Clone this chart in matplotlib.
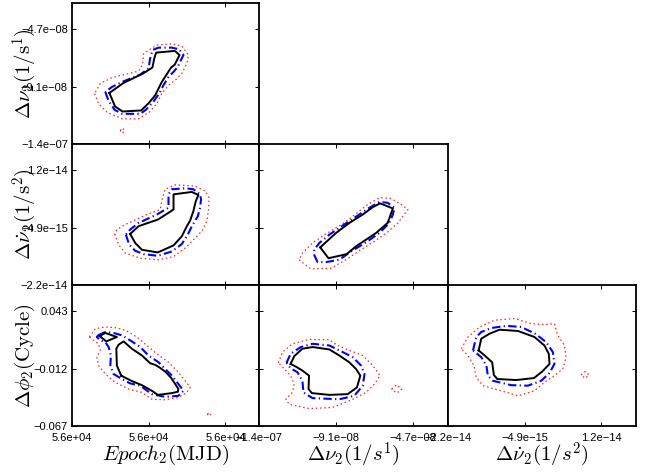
import numpy as np
import matplotlib
matplotlib.use("Agg")
import matplotlib.pyplot as plt

plt.rcParams["font.family"] = ["Liberation Sans", "DejaVu Sans"]
plt.rcParams["mathtext.fontset"] = "cm"

# Axis ranges (nu in 1e-8 1/s, nudot in 1e-15 1/s^2, phi in cycles)
epoch_lim = (55900, 56000)
epoch_ticks = [55900, 55941, 55982]
epoch_labels = ["5.6e+04", "5.6e+04", "5.6e+04"]
nu_lim = (-13.5, -2.7)
nu_ticks = [-13.5, -9.1, -4.7]
nu_labels = ["\u22121.4e\u221207", "\u22129.1e\u221208", "\u22124.7e\u221208"]
nudot_lim = (-21.9, 19.8)
nudot_ticks = [-21.9, -4.9, 12.1]
nudot_labels = ["\u22122.2e\u221214", "\u22124.9e\u221215", "1.2e\u221214"]
phi_lim = (-0.067, 0.068)
phi_ticks = [-0.067, -0.012, 0.043]
phi_labels = ["\u22120.067", "\u22120.012", "0.043"]

# Epoch vs nu
A_black_x = [55920, 55923, 55927, 55937, 55941, 55944.5, 55946, 55948, 55950, 55953, 55955, 55957.5, 55955, 55945, 55944, 55943, 55938, 55927.6]
A_black_y = [-9.59, -10.62, -11.01, -10.93, -10.37, -9.77, -9.33, -8.75, -8.31, -7.64, -7.41, -6.69, -6.37, -6.50, -6.94, -7.64, -8.10, -8.82]
A_blue_x = [55917.8, 55919.6, 55922.8, 55926.7, 55936.5, 55939.5, 55943.6, 55946.6, 55948.9, 55951.6, 55954.3, 55956.6, 55957.8, 55959.6, 55957.3, 55953.4, 55946.3, 55943.1, 55941.8, 55940.9, 55936.5, 55926.7, 55921.4]
A_blue_y = [-9.51, -10.21, -10.88, -11.19, -11.19, -10.88, -10.24, -9.64, -9.00, -8.36, -7.97, -7.58, -7.20, -6.69, -6.25, -6.12, -6.12, -6.30, -6.94, -7.71, -8.18, -8.75, -9.13]
A_red_x = [55912.1, 55914.2, 55918.7, 55926.7, 55935.6, 55941.3, 55945.4, 55948, 55951.6, 55955.2, 55958.7, 55961.4, 55962.3, 55958.7, 55953.4, 55945.4, 55938.3, 55937.7, 55935.6, 55921.4, 55915.1]
A_red_y = [-9.64, -10.41, -11.06, -11.57, -11.57, -11.06, -10.41, -9.64, -9.00, -8.62, -8.10, -7.33, -6.69, -5.99, -5.83, -5.92, -6.56, -7.45, -7.92, -8.41, -8.87]
A_blob_x = [55925.8, 55927, 55928.2, 55927]
A_blob_y = [-12.47, -12.27, -12.47, -12.67]

# Epoch vs nudot
B_black_x = [55931.1, 55933.8, 55937.4, 55945.9, 55954.3, 55958.7, 55961.4, 55963.2, 55964.9, 55966.2, 55967.6, 55964.1, 55954.3, 55954.3, 55951.6, 55945.9, 55935.6]
B_black_y = [-6.80, -9.47, -11.48, -12.27, -10.18, -7.51, -4.51, -2.84, -0.05, 2.91, 4.70, 5.62, 4.91, 0.45, -0.55, -2.55, -4.51]
B_blue_x = [55928.8, 55930.6, 55933.8, 55938.3, 55945.9, 55953.4, 55958.7, 55961.9, 55964.1, 55967.3, 55968.5, 55969, 55968.5, 55964.9, 55960.5, 55953.4, 55951.6, 55951.6, 55945.4, 55935.6, 55931.1]
B_blue_y = [-7.01, -9.97, -11.77, -12.77, -13.27, -11.98, -9.81, -7.01, -4.51, -1.55, 0.95, 3.41, 4.91, 6.41, 6.71, 6.41, 4.91, 0.95, -1.05, -3.55, -5.51]
B_red_x = [55922.8, 55924.9, 55928.5, 55936.5, 55946.3, 55954.3, 55960.5, 55964.9, 55969.4, 55972.1, 55973, 55973.3, 55971.2, 55965.8, 55955.2, 55949.8, 55948, 55947.2, 55940, 55928.5, 55924]
B_red_y = [-6.80, -9.97, -12.48, -13.98, -14.44, -13.48, -10.97, -8.51, -6.01, -3.05, 0.45, 3.91, 5.91, 7.37, 7.71, 6.41, 2.91, 0.45, -1.05, -4.01, -5.51]

# nu vs nudot
C_black_x = [-10.0, -9.53, -8.49, -7.96, -6.81, -6.15, -5.85, -6.58, -7.0, -7.57, -8.34, -9.1]
C_black_y = [-10.77, -13.98, -12.77, -10.47, -6.51, -3.55, 0.74, 2.24, 1.12, -1.05, -3.55, -6.51]
C_blue_x = [-10.35, -10.15, -9.68, -8.91, -8.24, -7.39, -6.62, -6.05, -5.85, -5.76, -6.15, -6.62, -7.19, -7.77, -8.63, -9.48, -10.05, -10.35]
C_blue_y = [-12.98, -15.14, -15.14, -14.44, -11.98, -9.31, -6.51, -3.55, -1.05, 0.95, 2.41, 2.70, 0.95, -1.05, -4.01, -7.01, -9.47, -11.48]
C_red_x = [-11.21, -10.54, -9.39, -8.53, -7.77, -6.90, -6.15, -5.56, -4.99, -5.38, -5.95, -6.62, -7.29, -7.96, -8.73, -9.68, -10.44, -11.02]
C_red_y = [-14.44, -17.15, -16.94, -14.44, -11.77, -8.97, -6.22, -3.55, 0.45, 1.91, 3.70, 3.91, 1.91, -0.84, -3.84, -6.80, -9.47, -12.48]

# Epoch vs phi
D_black_x = [55926.3, 55924, 55923.7, 55924.9, 55927.6, 55932, 55937.4, 55941.8, 55944.5, 55946.6, 55949.8, 55952.8, 55955.2, 55956.9, 55956.6, 55953.4, 55945.9, 55942.7, 55937.4, 55931.7]
D_black_y = [-0.0188, -0.0091, 0.0070, 0.0108, 0.0140, 0.0070, 0.0005, -0.0069, -0.0085, -0.0107, -0.0149, -0.0204, -0.0268, -0.0316, -0.0342, -0.0355, -0.0372, -0.0333, -0.0279, -0.0237]
D_small_x = [55914.8, 55917.8, 55924, 55918.3]
D_small_y = [0.0191, 0.0221, 0.0182, 0.0140]
D_blue_x = [55913.9, 55917.8, 55922.2, 55926.7, 55932, 55936.5, 55940.9, 55946.3, 55950.7, 55953.4, 55956.9, 55959.6, 55956.9, 55949.8, 55942.7, 55936.5, 55931.1, 55926.7, 55922.2, 55920.5, 55920.8, 55919.6, 55917.8, 55915.1, 55913.3]
D_blue_y = [0.0198, 0.0230, 0.0221, 0.0198, 0.0140, 0.0086, 0.0005, -0.0060, -0.0139, -0.0188, -0.0268, -0.0333, -0.0381, -0.0391, -0.0365, -0.0284, -0.0262, -0.0220, -0.0172, -0.0091, 0.0005, 0.0086, 0.0133, 0.0149, 0.0182]
D_red_x = [55909.3, 55912.5, 55917.8, 55923.1, 55928.5, 55934.7, 55940, 55945.4, 55951.6, 55956.9, 55960.5, 55963.2, 55961.4, 55956.9, 55949.8, 55942.7, 55937.4, 55930.2, 55923.1, 55917.8, 55914.2, 55913.3, 55915.1, 55914.2, 55911.6]
D_red_y = [0.0182, 0.0262, 0.0278, 0.0272, 0.0247, 0.0182, 0.0101, 0.0021, -0.0060, -0.0156, -0.0237, -0.0300, -0.0349, -0.0397, -0.0419, -0.0414, -0.0349, -0.0316, -0.0252, -0.0172, -0.0091, -0.0011, 0.0054, 0.0117, 0.0149]
D_blob_x = [55972.4, 55973.3, 55974.2, 55973.3]
D_blob_y = [-0.0558, -0.0542, -0.0558, -0.0574]

# nu vs phi
E_black_x = [-11.69, -11.49, -11.02, -10.44, -9.48, -8.91, -8.34, -7.96, -7.71, -7.90, -8.43, -9.48, -10.48, -10.67, -10.64, -11.02, -11.39]
E_black_y = [-0.0076, -0.0002, 0.0070, 0.0086, 0.0063, 0.0005, -0.0060, -0.0123, -0.0188, -0.0300, -0.0365, -0.0372, -0.0355, -0.0316, -0.0188, -0.0139, -0.0102]
E_blue_x = [-11.93, -11.69, -11.11, -10.44, -9.48, -8.91, -8.14, -7.67, -7.47, -7.57, -8.06, -8.91, -10.44, -10.96, -11.02, -11.30, -11.69]
E_blue_y = [-0.0065, 0.0021, 0.0086, 0.0117, 0.0101, 0.0054, -0.0011, -0.0091, -0.0172, -0.0284, -0.0381, -0.0414, -0.0403, -0.0349, -0.0237, -0.0156, -0.0117]
E_red_x = [-12.39, -12.16, -11.59, -10.64, -9.48, -9.01, -8.34, -7.57, -7.0, -6.58, -6.90, -7.39, -8.14, -9.30, -10.64, -11.78, -11.97, -11.59, -11.49, -11.69, -12.06]
E_red_y = [-0.0065, 0.0037, 0.0117, 0.0159, 0.0156, 0.0101, 0.0054, 0.0005, -0.0091, -0.0188, -0.0268, -0.0349, -0.0414, -0.0493, -0.0503, -0.0461, -0.0414, -0.0349, -0.0268, -0.0188, -0.0123]
E_blob_x = [-5.92, -5.63, -5.34, -5.63]
E_blob_y = [-0.0316, -0.0277, -0.0316, -0.0355]

# nudot vs phi
F_black_x = [-15.10, -14.52, -12.68, -10.47, -6.39, -2.72, -0.51, 0.45, 0.62, -1.01, -2.84, -6.76, -10.97, -11.73, -12.10, -13.77]
F_black_y = [0.0054, 0.0166, 0.0214, 0.0252, 0.0240, 0.0182, 0.0101, 0.0021, -0.0076, -0.0149, -0.0211, -0.0230, -0.0220, -0.0181, -0.0060, 0.0005]
F_blue_x = [-16.35, -15.64, -14.52, -12.31, -8.97, -5.68, -2.55, -0.13, 1.37, 1.70, 0.62, -1.22, -4.18, -7.89, -11.93, -13.06, -13.39, -14.52]
F_blue_y = [0.0054, 0.0182, 0.0230, 0.0268, 0.0289, 0.0278, 0.0214, 0.0133, 0.0037, -0.0076, -0.0162, -0.0237, -0.0284, -0.0279, -0.0237, -0.0188, -0.0091, -0.0011]
F_red_x = [-18.94, -17.48, -14.89, -11.56, -7.14, -3.47, -0.51, 1.70, 2.45, 3.91, 4.29, 3.58, 1.70, -0.51, -2.72, -6.39, -10.1, -14.14, -15.64, -16.14, -17.48]
F_red_y = [0.0070, 0.0182, 0.0278, 0.0343, 0.0359, 0.0310, 0.0301, 0.0310, 0.0198, 0.0101, -0.0011, -0.0123, -0.0188, -0.0252, -0.0333, -0.0381, -0.0333, -0.0284, -0.0204, -0.0091, 0.0005]
F_blob_x = [7.6, 8.5, 9.4, 8.5]
F_blob_y = [-0.0181, -0.0149, -0.0181, -0.0213]

red_style = dict(color="#ff2020", lw=0.9, ls=(0, (1.2, 2.2)))
blue_style = dict(color="#0000ff", lw=1.5, ls=(0, (4, 1.6, 0.6, 1.6)))
black_style = dict(color="black", lw=1.4, ls="-")


def loop(ax, xs, ys, style):
    # close the contour by repeating the first vertex
    ax.plot(np.append(xs, xs[0]), np.append(ys, ys[0]), **style)


fig = plt.figure(figsize=(6.49, 4.72), dpi=100)

col_left = [72 / 649, 259 / 649, 448 / 649]
col_w = [187 / 649, 189 / 649, 188 / 649]
row_bottom = [1 - 144 / 472, 1 - 285 / 472, 1 - 426 / 472]
row_h = 141 / 472

vars_x = [(epoch_lim, epoch_ticks, epoch_labels), (nu_lim, nu_ticks, nu_labels), (nudot_lim, nudot_ticks, nudot_labels)]
vars_y = [(nu_lim, nu_ticks, nu_labels), (nudot_lim, nudot_ticks, nudot_labels), (phi_lim, phi_ticks, phi_labels)]

panels = {
    (0, 0): [(A_red_x, A_red_y, red_style), (A_blob_x, A_blob_y, red_style),
             (A_blue_x, A_blue_y, blue_style), (A_black_x, A_black_y, black_style)],
    (1, 0): [(B_red_x, B_red_y, red_style), (B_blue_x, B_blue_y, blue_style),
             (B_black_x, B_black_y, black_style)],
    (1, 1): [(C_red_x, C_red_y, red_style), (C_blue_x, C_blue_y, blue_style),
             (C_black_x, C_black_y, black_style)],
    (2, 0): [(D_red_x, D_red_y, red_style), (D_blob_x, D_blob_y, red_style),
             (D_blue_x, D_blue_y, blue_style), (D_black_x, D_black_y, black_style),
             (D_small_x, D_small_y, black_style)],
    (2, 1): [(E_red_x, E_red_y, red_style), (E_blob_x, E_blob_y, red_style),
             (E_blue_x, E_blue_y, blue_style), (E_black_x, E_black_y, black_style)],
    (2, 2): [(F_red_x, F_red_y, red_style), (F_blob_x, F_blob_y, red_style),
             (F_blue_x, F_blue_y, blue_style), (F_black_x, F_black_y, black_style)],
}

for (r, c), curves in panels.items():
    ax = fig.add_axes([col_left[c], row_bottom[r], col_w[c], row_h])
    for xs, ys, st in curves:
        loop(ax, xs, ys, st)
    xl, xt, xlab = vars_x[c]
    yl, yt, ylab = vars_y[r]
    ax.set_xlim(xl)
    ax.set_ylim(yl)
    ax.set_xticks(xt)
    ax.set_yticks(yt)
    ax.set_xticklabels(xlab if r == 2 else [])
    ax.set_yticklabels(ylab if c == 0 else [])
    ax.tick_params(direction="in", top=True, right=True, length=3, width=0.7,
                   labelsize=8, pad=3)
    ax.tick_params(axis="x", pad=5)
    for sp in ax.spines.values():
        sp.set_linewidth(1.3)

ylabels = [r"$\Delta\nu_2(1/\mathrm{s}^1)$", r"$\Delta\dot{\nu}_2(1/\mathrm{s}^2)$",
           r"$\Delta\phi_2(\mathrm{Cycle})$"]
xlabels = [r"$Epoch_2(\mathrm{MJD})$", r"$\Delta\nu_2(1/s^1)$", r"$\Delta\dot{\nu}_2(1/s^2)$"]

for r, lab in enumerate(ylabels):
    fig.text(25 / 649, row_bottom[r] + row_h / 2, lab, rotation=90,
             ha="center", va="center", fontsize=15)
for c, lab in enumerate(xlabels):
    fig.text(col_left[c] + col_w[c] / 2, 1 - 455 / 472, lab,
             ha="center", va="center", fontsize=15)

fig.savefig("out.png", dpi=100)
